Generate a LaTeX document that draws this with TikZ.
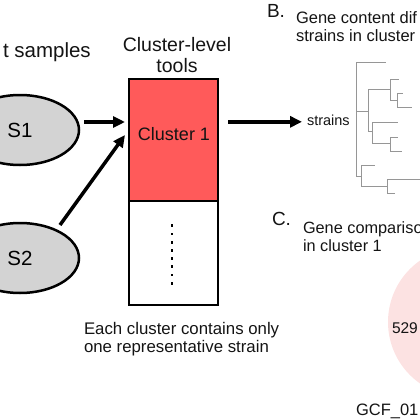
\documentclass[tikz,border=0pt]{standalone}
\usepackage{fontspec}
\setmainfont{Liberation Sans}
\usetikzlibrary{arrows.meta,calc,shapes.geometric}
\definecolor{clred}{RGB}{255,90,90}
\definecolor{ellgray}{RGB}{211,211,211}
\definecolor{pinkc}{RGB}{252,226,226}
\definecolor{treegray}{RGB}{150,150,150}
\definecolor{txt}{RGB}{20,20,20}
\begin{document}
\begin{tikzpicture}[x=1pt,y=-1pt,
  lbl/.style={inner sep=0,outer sep=0,anchor=base west,text=txt},
  sz/.style={font=\fontsize{#1}{#1}\selectfont},
  sample/.style={ellipse,draw,line width=2.5pt,fill=ellgray,minimum width=118pt,minimum height=70pt,inner sep=0,outer sep=0},
  box/.style={draw,line width=2.2pt,minimum width=89pt,inner sep=0,outer sep=0,anchor=north west},
  arr/.style={line width=3.5pt,-{Triangle[length=12pt,width=11pt]}},
  tree/.style={treegray,line width=1pt}]
\useasboundingbox (0,0) rectangle (420,420);
\clip (0,0) rectangle (420,420);

% Venn circle (part C)
\fill[pinkc] (463,322) circle[radius=75];

% titles
\node[lbl,sz=20.5] (title) at (3,58) {t samples};
\node[inner sep=0,text=txt,sz=19.5,align=center] (cltitle) at (177,55) {Cluster-level\\[1pt]tools};

% samples
\node[sample,sz=20.5] (s1) at (20,130) {S1};
\node[sample,sz=20.5] (s2) at (20,258) {S2};

% cluster boxes
\node[box,fill=clred,minimum height=122pt] (cluster) at (129,79) {};
\node[box,fill=white,minimum height=104pt] (rest) at (129,201) {};
\node[inner sep=0,text=txt,sz=18] (cl1text) at (174,134.5) {Cluster 1};
\foreach \i in {0,...,7} {
  \fill (172-1.4,225.7+8.23*\i-1.4) rectangle ++(2.8,2.8);
}

% arrows
\draw[arr] ($(s1.east)+(5,-8)$) -- ($(s1.east -| cluster.west)+(-4,-8)$);
\draw[arr] ($(s2.center)+(40,-33)$) -- ($(cluster.west)+(-4,-5)$);
\node[lbl,sz=14.5] (strains) at (307,125) {strains};
\draw[arr] ($(cluster.east |- strains.west)+(10,2)$) -- ($(strains.west)+(-5,2)$);

% note
\node[lbl,sz=16.8,align=left,anchor=north west] (note) at (84,322) {Each cluster contains only\\[2pt]one representative strain};

% part B
\node[lbl,sz=19] (labB) at (267,18) {B.};
\node[lbl,sz=16.5,align=left,anchor=north west] (textB) at (296,12) {Gene content dif\\[1.5pt]strains in cluster};

% tree
\draw[tree] (356,63)--(356,176);
\draw[tree] (356,63)--(386,63);
\draw[tree] (356,111)--(368,111);
\draw[tree] (368,89)--(368,131);
\draw[tree] (368,89)--(390,89);
\draw[tree] (390,79)--(390,100);
\draw[tree] (390,79)--(399,79);
\draw[tree] (390,100)--(397,100);
\draw[tree] (397,93)--(397,107);
\draw[tree] (397,93)--(403,93);
\draw[tree] (397,107)--(412,107);
\draw[tree] (368,131)--(372,131);
\draw[tree] (372,122)--(372,143);
\draw[tree] (372,122)--(398,122);
\draw[tree] (372,143)--(390,143);
\draw[tree] (390,137)--(390,151);
\draw[tree] (390,137)--(398,137);
\draw[tree] (390,151)--(402,151);
\draw[tree] (356,176)--(361,176);
\draw[tree] (361,165)--(361,186);
\draw[tree] (361,165)--(375,165);
\draw[tree] (361,186)--(387,186);
\draw[tree] (387,179)--(387,193);
\draw[tree] (387,179)--(420,179);
\draw[tree] (387,193)--(395,193);

% part C
\node[lbl,sz=19] (labC) at (272,225) {C.};
\node[lbl,sz=16.3,align=left,anchor=north west] (textC) at (303,222) {Gene compariso\\[1.5pt]in cluster 1};
\node[lbl,sz=15.5] (n529) at (392,333) {529};
\node[lbl,sz=16.5] (gcf) at (356,415) {GCF\_01};
\end{tikzpicture}
\end{document}
